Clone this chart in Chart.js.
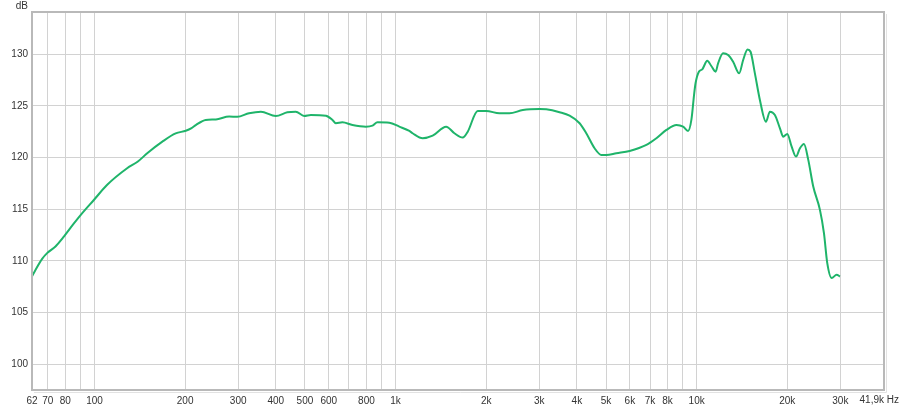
<!DOCTYPE html>
<html>
<head>
<meta charset="utf-8">
<script src="https://cdn.jsdelivr.net/npm/chart.js@4/dist/chart.umd.min.js"></script>
<style>
  html, body { margin: 0; padding: 0; background: #ffffff; }
  #wrap { width: 900px; height: 409px; }
</style>
</head>
<body>
<div id="wrap"><canvas id="c" width="900" height="409"></canvas></div>
<script>
// Frequency response (Hz) and level (dB)
const freqs = [62, 63.6, 67, 69.6, 74.2, 79.1, 85.3, 90.9, 99.5, 110, 128, 139, 150, 168, 186, 201, 210, 217, 234, 253, 280, 298, 326, 357, 400, 437, 466, 497, 523, 587, 617, 633, 666, 719, 797, 838, 871, 953, 1029, 1111, 1139, 1230, 1328, 1472, 1568, 1671, 1736, 1874, 1999, 2213, 2389, 2646, 3007, 3166, 3505, 3784, 4085, 4299, 4581, 4824, 5012, 5410, 5990, 6808, 7350, 7935, 8567, 9013, 9363, 9609, 9801, 9915, 10170, 10437, 10845, 11185, 11561, 11780, 12240, 12720, 13216, 13840, 14270, 14757, 15100, 15610, 16218, 16982, 17510, 18190, 18905, 19390, 19996, 20680, 21370, 22030, 22720, 23480, 24390, 25670, 26470, 27150, 28080, 29170, 29920];
const levels = [108.5, 109.1, 110.2, 110.75, 111.4, 112.35, 113.6, 114.6, 115.9, 117.35, 118.95, 119.6, 120.45, 121.55, 122.35, 122.6, 122.85, 123.15, 123.65, 123.7, 123.97, 123.95, 124.3, 124.45, 124.03, 124.39, 124.45, 124.03, 124.13, 124.06, 123.65, 123.33, 123.42, 123.16, 123.0, 123.1, 123.42, 123.38, 123.0, 122.58, 122.36, 121.88, 122.13, 123.0, 122.36, 121.94, 122.51, 124.52, 124.52, 124.29, 124.29, 124.61, 124.71, 124.68, 124.39, 124.06, 123.33, 122.36, 120.91, 120.26, 120.26, 120.43, 120.65, 121.23, 121.88, 122.68, 123.16, 123.0, 122.58, 123.7, 126.06, 127.2, 128.32, 128.55, 129.38, 128.87, 128.32, 129.13, 130.1, 129.93, 129.28, 128.16, 129.45, 130.48, 130.25, 128.16, 125.58, 123.48, 124.45, 124.13, 122.84, 122.03, 122.29, 121.06, 120.1, 120.91, 121.32, 119.78, 117.2, 114.94, 112.69, 109.79, 108.34, 108.66, 108.49];

// Axis ticks
const xTickValues = [62, 70, 80, 90, 100, 200, 300, 400, 500, 600, 700, 800, 900, 1000, 2000, 3000, 4000, 5000, 6000, 7000, 8000, 9000, 10000, 20000, 30000, 41900];
const xTickLabels = ['62', '70', '80', '', '100', '200', '300', '400', '500', '600', '', '800', '', '1k', '2k', '3k', '4k', '5k', '6k', '7k', '8k', '', '10k', '20k', '30k', ''];
const xEndLabel = '41,9k Hz';
const yTickValues = [100, 105, 110, 115, 120, 125, 130];
const xMin = 62, xMax = 41900, yMin = 97.5, yMax = 134.1;
const yUnit = 'dB';

const points = freqs.map((f, i) => ({ x: f, y: levels[i] }));
const FONT = '10px "Liberation Sans", Arial, sans-serif';

const framePlugin = {
  id: 'frame',
  afterDraw(chart) {
    const { ctx, chartArea: a } = chart;
    ctx.save();
    ctx.strokeStyle = '#e2e2e2';
    ctx.lineWidth = 1;
    ctx.beginPath();
    ctx.moveTo(a.right + 2.5, a.top + 2);
    ctx.lineTo(a.right + 2.5, a.bottom + 2.5);
    ctx.lineTo(a.left + 2, a.bottom + 2.5);
    ctx.stroke();
    ctx.strokeStyle = '#b9b9b9';
    ctx.lineWidth = 2;
    ctx.strokeRect(a.left, a.top, a.right - a.left, a.bottom - a.top);
    ctx.fillStyle = '#333333';
    ctx.font = FONT;
    ctx.textAlign = 'right';
    ctx.textBaseline = 'middle';
    ctx.fillText(yUnit, 28, 6);
    // end label of the frequency axis
    const xs = chart.scales.x;
    ctx.textBaseline = 'middle';
    ctx.textAlign = 'right';
    ctx.fillText(xEndLabel, 899, 400);
    ctx.restore();
  }
};

new Chart(document.getElementById('c'), {
  type: 'line',
  data: {
    datasets: [{
      data: points,
      borderColor: '#1fb46a',
      borderWidth: 2,
      pointRadius: 0,
      cubicInterpolationMode: 'monotone',
      fill: false
    }]
  },
  options: {
    responsive: false,
    animation: false,
    devicePixelRatio: 1,
    layout: { padding: { left: 0, right: 16, top: 12, bottom: 0 } },
    plugins: { legend: { display: false }, tooltip: { enabled: false } },
    scales: {
      x: {
        type: 'logarithmic',
        min: xMin,
        max: xMax,
        border: { display: false },
        grid: { color: '#d2d2d2', lineWidth: 1, drawTicks: false },
        afterBuildTicks(scale) { scale.ticks = xTickValues.map(v => ({ value: v })); },
        afterFit(scale) { scale.height = 19; scale.paddingLeft = 0; scale.paddingRight = 0; },
        ticks: {
          autoSkip: false,
          maxRotation: 0,
          minRotation: 0,
          padding: 5,
          color: '#333333',
          font: { family: '"Liberation Sans", Arial, sans-serif', size: 10 },
          callback(value) {
            const i = xTickValues.indexOf(value);
            return i >= 0 ? xTickLabels[i] : '';
          }
        }
      },
      y: {
        type: 'linear',
        min: yMin,
        max: yMax,
        border: { display: false },
        grid: { color: '#d2d2d2', lineWidth: 1, drawTicks: false },
        afterBuildTicks(scale) { scale.ticks = yTickValues.map(v => ({ value: v })); },
        afterFit(scale) { scale.width = 32; scale.paddingTop = 0; scale.paddingBottom = 0; },
        ticks: {
          padding: 4,
          color: '#333333',
          font: { family: '"Liberation Sans", Arial, sans-serif', size: 10 },
          callback(value) { return String(value); }
        }
      }
    }
  },
  plugins: [framePlugin]
});
</script>
</body>
</html>
